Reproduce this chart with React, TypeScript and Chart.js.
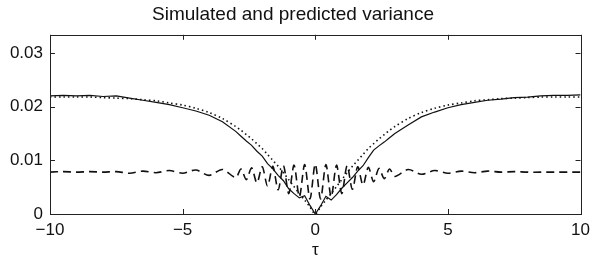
import React, { useEffect, useRef } from "react";
import { Chart, registerables } from "chart.js";

Chart.register(...registerables);

const titleText = "Simulated and predicted variance";
const xAxisLabel = "τ";

const tau = [
  -10, -9.5, -9, -8.5, -8, -7.5, -7, -6.5, -6, -5.5, -5, -4.5, -4, -3.5, -3,
  -2.8, -2.6, -2.4, -2.2, -2, -1.8, -1.6, -1.4, -1.2, -1, -0.8, -0.6, -0.4, -0.2, 0,
  0.2, 0.4, 0.6, 0.8, 1, 1.2, 1.4, 1.6, 1.8, 2, 2.2, 2.4, 2.6, 2.8,
  3, 3.5, 4, 4.5, 5, 5.5, 6, 6.5, 7, 7.5, 8, 8.5, 9, 9.5, 10,
];

const simulated = [
  0.022, 0.0221, 0.022, 0.0221, 0.0219, 0.022, 0.0216, 0.0212, 0.0208, 0.0204, 0.0198, 0.0192, 0.0184, 0.0172, 0.0154,
  0.0145, 0.0136, 0.0128, 0.0117, 0.0108, 0.0094, 0.0084, 0.0072, 0.0062, 0.0047, 0.0038, 0.003, 0.0034, 0.0016, 0.0,
  0.0015, 0.0033, 0.0026, 0.0036, 0.0048, 0.0058, 0.0068, 0.008, 0.009, 0.0105, 0.0119, 0.0127, 0.0134, 0.0142,
  0.015, 0.0166, 0.0181, 0.019, 0.0198, 0.0204, 0.0208, 0.0212, 0.0214, 0.0217, 0.0218, 0.022, 0.0221, 0.0221, 0.0222,
];

const predicted = [
  0.0218, 0.0218, 0.0218, 0.0218, 0.0217, 0.0216, 0.0215, 0.0213, 0.0211, 0.0207, 0.0203, 0.0197, 0.0189, 0.0178, 0.0163,
  0.0156, 0.0148, 0.014, 0.0131, 0.0122, 0.0111, 0.01, 0.0089, 0.0077, 0.0064, 0.0051, 0.0038, 0.0026, 0.0013, 0.0,
  0.0013, 0.0026, 0.0038, 0.0051, 0.0064, 0.0077, 0.0089, 0.01, 0.0111, 0.0122, 0.0131, 0.014, 0.0148, 0.0156,
  0.0163, 0.0178, 0.0189, 0.0197, 0.0203, 0.0207, 0.0211, 0.0213, 0.0215, 0.0216, 0.0217, 0.0218, 0.0218, 0.0218, 0.0218,
];

const oscillating = [
  0.0078, 0.0079, 0.0078, 0.0079, 0.0078, 0.0079, 0.0076, 0.008, 0.0077, 0.0081, 0.0076, 0.0082, 0.0072, 0.0083, 0.0068,
  0.0084, 0.0064, 0.0086, 0.0058, 0.0088, 0.0052, 0.0089, 0.0045, 0.009, 0.0038, 0.0091, 0.0032, 0.0092, 0.0028, 0.0093,
  0.0028, 0.0092, 0.0032, 0.0091, 0.0038, 0.009, 0.0046, 0.0088, 0.0054, 0.0087, 0.006, 0.0085, 0.0066, 0.0084,
  0.007, 0.0083, 0.0074, 0.0081, 0.0076, 0.008, 0.0077, 0.008, 0.0078, 0.0079, 0.0078, 0.0078, 0.0078, 0.0078, 0.0078,
];

const xTicks = [-10, -5, 0, 5, 10];
const xTickLabels = ["\u221210", "\u22125", "0", "5", "10"];
const yTicks = [0, 0.01, 0.02, 0.03];
const yTickLabels = ["0", "0.01", "0.02", "0.03"];

const FONT = "'Liberation Sans', Arial, Helvetica, sans-serif";

const boxPlugin = {
  id: "matlabBox",
  afterDatasetsDraw(chart: any) {
    const { ctx, chartArea, scales } = chart;
    const { left, right, top, bottom } = chartArea;
    const t = 5;
    ctx.save();
    ctx.strokeStyle = "#222";
    ctx.lineWidth = 1;
    ctx.strokeRect(Math.round(left) + 0.5, Math.round(top) + 0.5, Math.round(right - left), Math.round(bottom - top));
    ctx.beginPath();
    xTicks.forEach((v) => {
      const x = Math.round(scales.x.getPixelForValue(v)) + 0.5;
      ctx.moveTo(x, bottom);
      ctx.lineTo(x, bottom - t);
      ctx.moveTo(x, top);
      ctx.lineTo(x, top + t);
    });
    yTicks.forEach((v) => {
      const y = Math.round(scales.y.getPixelForValue(v)) + 0.5;
      ctx.moveTo(left, y);
      ctx.lineTo(left + t, y);
      ctx.moveTo(right, y);
      ctx.lineTo(right - t, y);
    });
    ctx.stroke();
    ctx.restore();
  },
};

export default function App() {
  const ref = useRef<HTMLCanvasElement | null>(null);

  useEffect(() => {
    if (!ref.current) return;
    const mk = (vals: number[]) => tau.map((x, i) => ({ x, y: vals[i] }));
    const chart = new Chart(ref.current, {
      type: "line",
      data: {
        datasets: [
          {
            label: "simulated",
            data: mk(simulated),
            borderColor: "#111",
            borderWidth: 1.2,
            pointRadius: 0,
            tension: 0,
          },
          {
            label: "predicted",
            data: mk(predicted),
            borderColor: "#111",
            borderWidth: 1.6,
            borderDash: [1.5, 3],
            pointRadius: 0,
            tension: 0.3,
          },
          {
            label: "oscillating",
            data: mk(oscillating),
            borderColor: "#111",
            borderWidth: 1.6,
            borderDash: [8, 5],
            pointRadius: 0,
            tension: 0.3,
          },
        ],
      },
      options: {
        responsive: false,
        animation: false,
        layout: { padding: { left: 0, right: 10, top: 0, bottom: 0 } },
        plugins: {
          legend: { display: false },
          tooltip: { enabled: false },
          title: {
            display: true,
            text: titleText,
            color: "#111",
            font: { family: FONT, size: 19, weight: "normal" },
            padding: { top: 3, bottom: 9 },
          },
        },
        scales: {
          x: {
            type: "linear",
            min: -10,
            max: 10,
            grid: { display: false, drawTicks: false },
            border: { display: false },
            afterBuildTicks: (s: any) => {
              s.ticks = xTicks.map((v) => ({ value: v }));
            },
            afterFit: (s: any) => {
              s.height = 48;
            },
            ticks: {
              color: "#111",
              padding: 6,
              maxRotation: 0,
              font: { family: FONT, size: 17 },
              callback: (v: any) => {
                const i = xTicks.indexOf(Number(v));
                return i >= 0 ? xTickLabels[i] : "";
              },
            },
            title: {
              display: true,
              text: xAxisLabel,
              color: "#111",
              font: { family: FONT, size: 17 },
              padding: { top: 0, bottom: 1 },
            },
          },
          y: {
            type: "linear",
            min: 0,
            max: 0.0334,
            grid: { display: false, drawTicks: false },
            border: { display: false },
            afterBuildTicks: (s: any) => {
              s.ticks = yTicks.map((v) => ({ value: v }));
            },
            afterFit: (s: any) => {
              s.width = 50;
            },
            ticks: {
              color: "#111",
              padding: 7,
              font: { family: FONT, size: 17 },
              callback: (v: any) => {
                const i = yTicks.findIndex((t) => Math.abs(t - Number(v)) < 1e-9);
                return i >= 0 ? yTickLabels[i] : "";
              },
            },
          },
        },
      },
      plugins: [boxPlugin],
    });
    return () => chart.destroy();
  }, []);

  return (
    <div style={{ position: "fixed", left: 0, top: 0, width: 596, height: 262, background: "#fff" }}>
      <canvas ref={ref} width={596} height={262} style={{ display: "block" }} />
    </div>
  );
}
